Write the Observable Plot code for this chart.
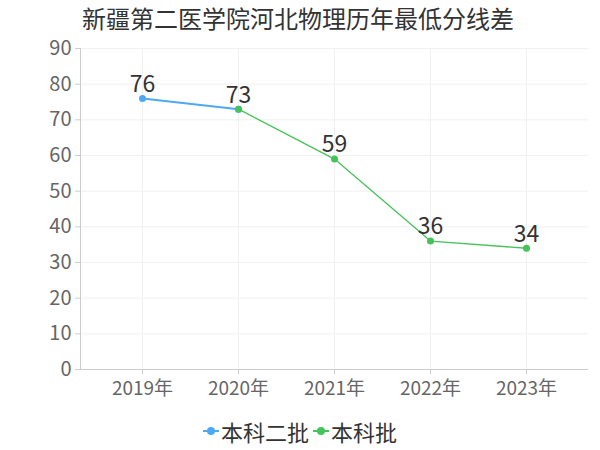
<!DOCTYPE html>
<html><head><meta charset="utf-8">
<script src="https://cdn.jsdelivr.net/npm/d3@7"></script>
<script src="https://cdn.jsdelivr.net/npm/@observablehq/plot@0.6"></script>
<style>
body{margin:0;background:#fff;font-family:"Noto Sans CJK SC","Noto Sans",sans-serif;position:relative;}
#title{position:absolute;top:0;left:82px;height:36px;line-height:36px;font-size:24px;color:#333;white-space:nowrap;}
#legend{display:flex;justify-content:center;align-items:center;font-size:22px;color:#333;margin-top:4px;}
.item{display:flex;align-items:center;margin:0 2px;}
.sym{position:relative;width:16px;height:12px;margin-right:2px;}
.sym .ln{position:absolute;left:0;right:0;top:5px;height:2px;}
.sym .dt{position:absolute;left:4px;top:2px;width:8px;height:8px;border-radius:50%;}
</style></head>
<body>
<div id="chart"></div>
<div id="title">新疆第二医学院河北物理历年最低分线差</div>
<div id="legend"></div>
<script>
const years = ["2019年","2020年","2021年","2022年","2023年"];
const seriesNames = ["本科二批","本科批"];
const seriesColors = ["#4ea9f5","#45c35a"];
const erpiValues = [76, 73, null, null, null];
const benkeValues = [null, 73, 59, 36, 34];
const yTicks = [0,10,20,30,40,50,60,70,80,90];

const rows = [];
[erpiValues, benkeValues].forEach((vals, si) => {
  vals.forEach((v, i) => { if (v != null) rows.push({year: years[i], value: v, series: seriesNames[si]}); });
});
const s1 = rows.filter(d => d.series === seriesNames[0]);
const s2 = rows.filter(d => d.series === seriesNames[1]);
const labelRows = rows.filter((d, i, a) => a.findIndex(e => e.year === d.year) === i);

const chart = Plot.plot({
  width: 600, height: 411,
  marginTop: 48, marginBottom: 42, marginLeft: 80, marginRight: 12,
  style: {fontFamily: '"Noto Sans CJK SC","Noto Sans",sans-serif', background: "#fff"},
  x: {type: "point", domain: years, padding: 0.62, label: null},
  y: {domain: [0, 90], ticks: yTicks, label: null},
  marks: [
    Plot.gridY(yTicks, {stroke: "#f0f0f0", strokeOpacity: 1}),
    Plot.gridX(years, {stroke: "#f0f0f0", strokeOpacity: 1}),
    Plot.axisY({ticks: yTicks, tickSize: 5, tickPadding: 4, fontSize: 20, color: "#ccc", tickFormat: d => d, label: null}),
    Plot.axisX({tickSize: 5, tickPadding: 7, fontSize: 19, color: "#ccc", label: null}),
    Plot.ruleY([0], {stroke: "#ccc"}),
    Plot.line(s1, {x: "year", y: "value", stroke: seriesColors[0], strokeWidth: 2}),
    Plot.line(s2, {x: "year", y: "value", stroke: seriesColors[1], strokeWidth: 1.3}),
    Plot.dot(s1, {x: "year", y: "value", fill: seriesColors[0], r: 3.5}),
    Plot.dot(s2, {x: "year", y: "value", fill: seriesColors[1], r: 3.5}),
    Plot.text(labelRows, {x: "year", y: "value", text: d => String(d.value), dy: -14, fontSize: 23, fill: "#333"})
  ]
});
chart.querySelectorAll('g[aria-label="y-axis tick label"] text, g[aria-label="x-axis tick label"] text').forEach(t => t.setAttribute("fill", "#666"));
document.getElementById("chart").appendChild(chart);
const svg = d3.select(chart);
svg.append("line").attr("x1", 80.5).attr("x2", 80.5).attr("y1", 48).attr("y2", 369).attr("stroke", "#ccc");

const legend = document.getElementById("legend");
seriesNames.forEach((n, i) => {
  const it = document.createElement("div"); it.className = "item";
  it.innerHTML = `<span class="sym"><span class="ln" style="background:${seriesColors[i]}"></span><span class="dt" style="background:${seriesColors[i]}"></span></span>${n}`;
  legend.appendChild(it);
});
</script>
</body></html>
